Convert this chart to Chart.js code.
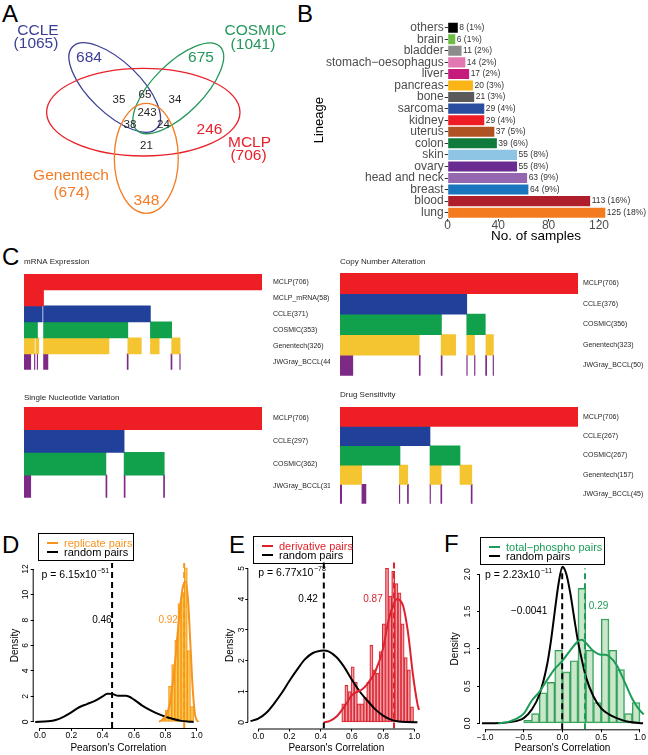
<!DOCTYPE html>
<html>
<head>
<meta charset="utf-8">
<script src="https://cdn.jsdelivr.net/npm/chart.js@4.4.0/dist/chart.umd.min.js"></script>
<style>
body { margin: 0; background: #fff; width: 648px; height: 755px; position: relative; overflow: hidden;
       font-family: 'Liberation Sans', Arial, sans-serif; }
canvas, .tag, .leg { position: absolute; }
.tag { font-size: 24px; line-height: 24px; color: #000; }
.leg { border: 1px solid #000; box-sizing: border-box; height: 28px; font-size: 11px; }
.leg i { position: absolute; left: 8px; width: 11px; height: 2px; }
.leg span { position: absolute; left: 25px; line-height: 10px; white-space: nowrap; }
</style>
</head>
<body>
<div class="tag" style="left:2px;top:2px">A</div>
<div class="tag" style="left:297px;top:2px">B</div>
<div class="tag" style="left:2px;top:245px">C</div>
<div class="tag" style="left:2px;top:533px">D</div>
<div class="tag" style="left:229px;top:533px">E</div>
<div class="tag" style="left:444px;top:532px">F</div>

<canvas id="venn" width="320" height="250" style="left:0;top:0"></canvas>
<canvas id="lineage" width="338" height="250" style="left:310px;top:0"></canvas>
<canvas id="mrna" width="330" height="130" style="left:0;top:255px"></canvas>
<canvas id="cna" width="332" height="130" style="left:316px;top:255px"></canvas>
<canvas id="snv" width="330" height="122" style="left:0;top:391px"></canvas>
<canvas id="drug" width="332" height="125" style="left:316px;top:388px"></canvas>
<canvas id="histD" width="215" height="200" style="left:0;top:555px"></canvas>
<canvas id="histE" width="215" height="200" style="left:215px;top:555px"></canvas>
<canvas id="histF" width="218" height="200" style="left:430px;top:555px"></canvas>

<div class="leg" style="left:38px;top:533px;width:96px">
  <i style="top:8px;background:#f7941d"></i><span style="top:4px;color:#f7941d">replicate pairs</span>
  <i style="top:17px;background:#000"></i><span style="top:13px">random pairs</span>
</div>
<div class="leg" style="left:253px;top:536px;width:100px">
  <i style="top:8px;background:#e41e26"></i><span style="top:4px;color:#e41e26">derivative pairs</span>
  <i style="top:17px;background:#000"></i><span style="top:13px">random pairs</span>
</div>
<div class="leg" style="left:480px;top:537px;width:125px">
  <i style="top:8px;background:#1c9c58"></i><span style="top:4px;color:#1c9c58">total−phospho pairs</span>
  <i style="top:17px;background:#000"></i><span style="top:13px">random pairs</span>
</div>

<script>
const FONT = "'Liberation Sans', Arial, sans-serif";
Chart.defaults.font.family = FONT;
Chart.defaults.color = '#000';
Chart.defaults.animation = false;
Chart.defaults.responsive = false;
Chart.defaults.plugins.legend.display = false;
Chart.defaults.plugins.tooltip.enabled = false;

// ---- A: overlap of the four sources
const vennSets = ['CCLE', 'COSMIC', 'MCLP', 'Genentech'];
const vennTotals = [1065, 1041, 706, 674];
const vennCounts = [684, 675, 246, 348, 35, 65, 34, 243, 38, 24, 21];

// ---- B: lineages
const lineages = ['others', 'brain', 'bladder', 'stomach−oesophagus', 'liver', 'pancreas', 'bone', 'sarcoma',
  'kidney', 'uterus', 'colon', 'skin', 'ovary', 'head and neck', 'breast', 'blood', 'lung'];
const lineageCounts = [8, 6, 11, 14, 17, 20, 21, 29, 29, 37, 39, 55, 55, 63, 64, 113, 125];
const lineagePct = ['1%', '1%', '2%', '2%', '2%', '3%', '3%', '4%', '4%', '5%', '6%', '8%', '8%', '9%', '9%', '16%', '18%'];

// ---- C: sample coverage per data type, segments in sample order (0..706)
const mrnaTracks = ['MCLP(706)', 'MCLP_mRNA(58)', 'CCLE(371)', 'COSMIC(353)', 'Genentech(326)', 'JWGray_BCCL(44)'];
const mrnaSegs = [
  [[0, 706]], [[0, 58]], [[0, 54], [58, 375]], [[0, 40], [58, 308], [375, 438]],
  [[0, 31], [35, 44], [58, 252], [308, 348], [375, 401], [438, 463]],
  [[0, 20], [31, 32.5], [39, 40.5], [58, 71], [306, 309], [436, 439], [462, 463.5]]];
const cnaTracks = ['MCLP(706)', 'CCLE(376)', 'COSMIC(356)', 'Genentech(323)', 'JWGray_BCCL(50)'];
const cnaSegs = [
  [[0, 706]], [[0, 376]], [[0, 301], [376, 431]], [[0, 235], [300, 343], [376, 399], [433, 455]],
  [[0, 38], [235, 238], [300, 303], [376, 377.5], [399, 400.5], [432, 435], [454, 455.5]]];
const snvTracks = ['MCLP(706)', 'CCLE(297)', 'COSMIC(362)', 'JWGray_BCCL(31)'];
const snvSegs = [
  [[0, 706]], [[0, 297]], [[0, 243], [297, 416]], [[0, 20], [243, 246], [297, 300], [414, 417]]];
const drugTracks = ['MCLP(706)', 'CCLE(267)', 'COSMIC(267)', 'Genentech(157)', 'JWGray_BCCL(45)'];
const drugSegs = [
  [[0, 706]], [[0, 267]], [[0, 178], [267, 356]], [[0, 64], [176, 201], [267, 300], [356, 391]],
  [[1, 5], [65, 77], [176, 177.5], [200, 203], [267, 268.5], [299, 302], [389, 392]]];

// ---- D/E/F: Pearson correlation distributions
const dBins = [0.79, 0.81, 0.83, 0.85, 0.87, 0.89, 0.91, 0.93, 0.95, 0.97];
const dHist = [0.3, 0.9, 2.8, 4.5, 6.4, 9.3, 10.0, 12.1, 5.6, 1.2];
const dRandX = [-0.03, 0.05, 0.1, 0.15, 0.2, 0.25, 0.3, 0.35, 0.4, 0.43, 0.46, 0.5, 0.55, 0.6, 0.65, 0.7, 0.75, 0.8, 0.85, 0.9, 0.95, 0.98];
const dRandY = [0, 0.05, 0.15, 0.4, 0.75, 1.15, 1.4, 1.65, 2.0, 2.22, 2.2, 2.05, 2.05, 1.75, 1.3, 0.95, 0.65, 0.4, 0.22, 0.08, 0.02, 0];
const dPairX = [0.76, 0.8, 0.83, 0.86, 0.89, 0.91, 0.93, 0.945, 0.96, 0.975, 0.99, 1.01];
const dPairY = [0, 0.4, 1.5, 4.5, 8.5, 10.5, 11.0, 9.5, 6.0, 2.5, 0.5, 0];
const dMeans = [0.46, 0.92];

const eBins = [0.545, 0.565, 0.585, 0.605, 0.625, 0.645, 0.665, 0.685, 0.705, 0.725, 0.745, 0.765,
  0.785, 0.805, 0.825, 0.845, 0.865, 0.885, 0.905, 0.925, 0.945, 0.965, 0.985];
const eHist = [0.6, 1.2, 1.0, 1.8, 1.3, 0.6, 0.6, 0.8, 1.3, 2.5, 1.7, 1.6, 2.3, 3.2, 5.0, 4.1, 4.9, 4.5, 4.2, 3.2, 2.1, 1.7, 0.5];
const eRandX = [-0.05, 0, 0.05, 0.1, 0.15, 0.2, 0.25, 0.3, 0.35, 0.4, 0.42, 0.45, 0.5, 0.55, 0.6, 0.65, 0.7, 0.75, 0.8, 0.85, 0.9, 0.95, 1.02];
const eRandY = [0.04, 0.12, 0.3, 0.6, 0.95, 1.35, 1.72, 2.05, 2.25, 2.32, 2.33, 2.3, 2.12, 1.8, 1.38, 1.0, 0.7, 0.42, 0.22, 0.09, 0.03, 0.01, 0];
const ePairX = [0.42, 0.46, 0.5, 0.55, 0.6, 0.63, 0.66, 0.7, 0.75, 0.8, 0.83, 0.86, 0.89, 0.91, 0.93, 0.96, 0.99, 1.02, 1.03];
const ePairY = [0, 0.05, 0.18, 0.5, 0.88, 0.98, 1.05, 1.25, 1.65, 2.4, 3.2, 3.75, 4.0, 3.95, 3.75, 2.9, 1.6, 0.6, 0.4];
const eMeans = [0.42, 0.87];

const fBins = [-0.45, -0.35, -0.25, -0.15, -0.05, 0.05, 0.15, 0.25, 0.35, 0.45, 0.55, 0.65, 0.75, 0.85, 0.95];
const fHist = [0.04, 0.13, 0.41, 0.55, 0.98, 0.69, 0.84, 1.81, 0.98, 0.28, 1.40, 0.98, 0.72, 0.13, 0.28];
const fRandX = [-1.04, -0.8, -0.6, -0.5, -0.4, -0.3, -0.2, -0.15, -0.1, -0.05, 0, 0.05, 0.1, 0.15, 0.2, 0.25, 0.3, 0.4, 0.5, 0.6, 0.7, 0.85, 1.04];
const fRandY = [0, 0.005, 0.03, 0.07, 0.18, 0.38, 0.78, 1.1, 1.5, 1.88, 2.1, 2.0, 1.75, 1.42, 1.1, 0.85, 0.63, 0.36, 0.2, 0.12, 0.07, 0.02, 0];
const fPairX = [-0.83, -0.7, -0.6, -0.5, -0.4, -0.3, -0.2, -0.1, 0, 0.1, 0.2, 0.25, 0.3, 0.4, 0.5, 0.55, 0.6, 0.7, 0.8, 0.9, 1.0, 1.05];
const fPairY = [0, 0.02, 0.06, 0.13, 0.3, 0.42, 0.58, 0.73, 0.84, 0.98, 1.1, 1.12, 1.08, 0.97, 0.92, 0.92, 0.9, 0.78, 0.56, 0.33, 0.17, 0.12];
const fMeans = [-0.0041, 0.29];

function xyzip(xs, ys) {
  return xs.map((x, i) => ({x: x, y: ys[i]}));
}

// ---------------- A: Venn (drawn in a 320x250 unit frame)
const vennColors = ['#3b3f95', '#23985a', '#e8222b', '#f47c24'];
const vennShapes = [[114.7, 87.5, 58.6, 25.5, 44], [178.3, 88.3, 59, 25, -45], [143.3, 112.2, 96.7, 43.8, 0], [146.3, 158.3, 32, 55, 0]];
const vennNameX = [38, 255.5, 249.5, 71], vennNameY = [31, 31, 142.5, 176];
const vennTotalX = [36, 253, 248.5, 71.5], vennTotalY = [44, 44.5, 156, 193];
const vennCountX = [89, 201, 209.5, 146.5, 119, 145, 175, 147, 130, 163.5, 146.5];
const vennCountY = [57.5, 57.5, 130, 201, 100, 95, 100, 112.5, 125, 125, 146];

const vennDraw = {
  id: 'vennDraw',
  beforeDatasetsDraw(chart) {
    const {ctx, scales: {x, y}} = chart;
    const k = x.getPixelForValue(1) - x.getPixelForValue(0);
    ctx.save();
    ctx.lineWidth = 1.3;
    vennShapes.forEach((e, i) => {
      ctx.strokeStyle = vennColors[i];
      ctx.beginPath();
      ctx.ellipse(x.getPixelForValue(e[0]), y.getPixelForValue(e[1]), e[2] * k, e[3] * k, e[4] * Math.PI / 180, 0, 2 * Math.PI);
      ctx.stroke();
    });
    ctx.restore();
  },
  afterDatasetsDraw(chart) {
    const {ctx, scales: {x, y}} = chart;
    ctx.save();
    ctx.textAlign = 'center';
    ctx.textBaseline = 'middle';
    ctx.font = '15.5px ' + FONT;
    vennSets.forEach((s, i) => {
      ctx.fillStyle = vennColors[i];
      ctx.fillText(s, x.getPixelForValue(vennNameX[i]), y.getPixelForValue(vennNameY[i]));
      ctx.fillText('(' + vennTotals[i] + ')', x.getPixelForValue(vennTotalX[i]), y.getPixelForValue(vennTotalY[i]));
    });
    chart.getDatasetMeta(0).data.forEach((pt, i) => {
      const own = i < 4;
      ctx.font = (own ? 15.5 : 11.5) + 'px ' + FONT;
      ctx.fillStyle = own ? vennColors[i] : '#231f20';
      ctx.fillText(String(vennCounts[i]), pt.x, pt.y);
    });
    ctx.restore();
  }
};

new Chart(document.getElementById('venn'), {
  type: 'scatter',
  data: {datasets: [{data: xyzip(vennCountX, vennCountY), pointRadius: 0}]},
  options: {
    layout: {padding: 0},
    scales: {
      x: {min: 0, max: 320, display: false},
      y: {min: 0, max: 250, reverse: true, display: false}
    }
  },
  plugins: [vennDraw]
});

// ---------------- B: lineage bars
const lineageColors = ['#000000', '#6cbd45', '#8c8c8c', '#e377b1', '#c51b7d', '#fbb416', '#5a5a5a', '#2a4d9f',
  '#ee1d25', '#b05324', '#107a3d', '#8ec5e5', '#6a2c91', '#9467b0', '#1a75bc', '#ae1f2b', '#f47a20'];

const barValueLabels = {
  id: 'barValueLabels',
  afterDatasetsDraw(chart) {
    const ctx = chart.ctx;
    ctx.save();
    ctx.font = '8.5px ' + FONT;
    ctx.fillStyle = '#333';
    ctx.textBaseline = 'middle';
    chart.getDatasetMeta(0).data.forEach((bar, i) => {
      ctx.fillText(lineageCounts[i] + ' (' + lineagePct[i] + ')', bar.x + 1.5, bar.y);
    });
    ctx.restore();
  }
};

new Chart(document.getElementById('lineage'), {
  type: 'bar',
  data: {labels: lineages, datasets: [{data: lineageCounts, backgroundColor: lineageColors, barPercentage: 0.87, categoryPercentage: 1}]},
  options: {
    indexAxis: 'y',
    layout: {padding: {top: 21.9, right: 23.8, left: 0, bottom: 0}},
    scales: {
      x: {
        min: 0, max: 140,
        ticks: {stepSize: 40, includeBounds: false, color: '#4d4d4d', font: {size: 12, lineHeight: 1}, padding: -2, maxRotation: 0},
        grid: {drawOnChartArea: false, tickLength: 3, color: '#333'},
        border: {display: false},
        title: {display: true, text: 'No. of samples', font: {size: 13.5}, padding: {top: 0, bottom: 6}},
        afterFit: s => { s.height = 31.5; }
      },
      y: {
        ticks: {autoSkip: false, color: '#4d4d4d', font: {size: 12}, padding: 1},
        grid: {drawOnChartArea: false, tickLength: 3, color: '#333', offset: false},
        border: {display: false},
        title: {display: true, text: 'Lineage', font: {size: 13}, padding: {top: 1.2, bottom: 0}},
        afterFit: s => { s.width = 137.7; }
      }
    }
  },
  plugins: [barValueLabels]
});

// ---------------- C: coverage tracks
const sourceColor = {MCLP: '#ed1f24', CCLE: '#21409a', COSMIC: '#11a04b', Genentech: '#f5c431', JWGray: '#7d2a86'};

function trackPanel(id, title, names, segs, titleBottom, axisW, labelPad) {
  new Chart(document.getElementById(id), {
    type: 'bar',
    data: {
      labels: names,
      datasets: names.map((n, i) => ({
        data: segs[i].map(s => ({x: s, y: n})),
        backgroundColor: sourceColor[n.split(/[_(]/)[0]],
        grouped: false, barPercentage: 1, categoryPercentage: 1
      }))
    },
    options: {
      indexAxis: 'y',
      layout: {padding: {left: 24, top: 0, right: 0, bottom: 4}},
      plugins: {
        title: {display: true, text: title, align: 'start', color: '#231f20',
                font: {size: 8, weight: 'normal'}, padding: {top: 2.2, bottom: titleBottom}}
      },
      scales: {
        x: {type: 'linear', min: 0, max: 706, display: false},
        y: {
          position: 'right',
          grid: {display: false, drawTicks: false},
          border: {display: false},
          ticks: {autoSkip: false, padding: labelPad, color: '#231f20', font: {size: 7}},
          afterFit: s => { s.width = axisW; }
        }
      }
    }
  });
}

trackPanel('mrna', 'mRNA Expression', mrnaTracks, mrnaSegs, 7.2, 68, 11);
trackPanel('cna', 'Copy Number Alteration', cnaTracks, cnaSegs, 6.2, 70, 5);
trackPanel('snv', 'Single Nucleotide Variation', snvTracks, snvSegs, 4.2, 68, 11);
trackPanel('drug', 'Drug Sensitivity', drugTracks, drugSegs, 7.2, 70, 5);

// ---------------- D/E/F: histograms with density curves
const rAxes = {
  id: 'rAxes',
  afterDraw(chart) {
    const {ctx, chartArea: a, scales: {x, y}} = chart;
    ctx.save();
    ctx.strokeStyle = '#000';
    ctx.lineWidth = 1;
    ctx.beginPath();
    ctx.moveTo(x.getPixelForValue(x.ticks[0].value), a.bottom + 0.5);
    ctx.lineTo(x.getPixelForValue(x.ticks[x.ticks.length - 1].value), a.bottom + 0.5);
    ctx.moveTo(a.left - 0.5, y.getPixelForValue(y.ticks[0].value));
    ctx.lineTo(a.left - 0.5, y.getPixelForValue(y.ticks[y.ticks.length - 1].value));
    ctx.stroke();
    ctx.restore();
  }
};

function fmtNum(v, digits) {
  return v.toFixed(digits).replace('-', '−');
}

function densityPanel(id, p) {
  const notes = {
    id: 'notes',
    afterDatasetsDraw(chart) {
      const {ctx, scales: {x, y}} = chart;
      ctx.save();
      ctx.textBaseline = 'middle';
      ctx.textAlign = 'center';
      ctx.font = '10px ' + FONT;
      p.means.forEach((m, i) => {
        ctx.fillStyle = p.colors[i];
        ctx.fillText(p.meanText[i], x.getPixelForValue(p.meanLabelX[i]), y.getPixelForValue(p.meanLabelY[i]));
      });
      ctx.textAlign = 'left';
      ctx.fillStyle = '#000';
      ctx.font = '10.5px ' + FONT;
      const px = x.getPixelForValue(p.pAt[0]), py = y.getPixelForValue(p.pAt[1]);
      const base = 'p = ' + p.pMant + 'x10';
      ctx.fillText(base, px, py);
      const w = ctx.measureText(base).width;
      ctx.font = '7px ' + FONT;
      ctx.fillText(p.pExp, px + w + 0.5, py - 4);
      ctx.restore();
    }
  };
  const datasets = [];
  p.means.forEach((m, i) => datasets.push({
    type: 'line', data: [{x: m, y: p.yMin}, {x: m, y: p.yMax}],
    borderColor: p.colors[i], borderWidth: 2, borderDash: [6, 4], pointRadius: 0
  }));
  datasets.push({type: 'line', data: xyzip(p.pairX, p.pairY), borderColor: p.colors[1], borderWidth: 2,
    pointRadius: 0, cubicInterpolationMode: 'monotone', clip: false});
  datasets.push({type: 'line', data: xyzip(p.randX, p.randY), borderColor: '#000', borderWidth: 2,
    pointRadius: 0, cubicInterpolationMode: 'monotone', clip: false});
  datasets.push({type: 'bar', data: xyzip(p.bins, p.hist), backgroundColor: p.fill, borderColor: p.edge,
    borderWidth: 1, borderSkipped: false, barPercentage: 1, categoryPercentage: 1});

  new Chart(document.getElementById(id), {
    type: 'bar',
    data: {datasets: datasets},
    options: {
      layout: {padding: {top: p.top, right: p.right, left: 0, bottom: 0}},
      scales: {
        x: {
          type: 'linear', min: p.xMin, max: p.xMax, offset: false,
          ticks: {stepSize: p.xStep, includeBounds: false, autoSkip: false, maxRotation: 0, padding: 0,
                  font: {size: 8.5}, callback: v => fmtNum(v, 1)},
          grid: {drawOnChartArea: false, tickLength: 3, color: '#000', offset: false},
          border: {display: false},
          title: {display: true, text: "Pearson's Correlation", font: {size: 10}, padding: {top: 0, bottom: 1}},
          afterFit: s => { s.height = p.xAxisH; }
        },
        y: {
          min: p.yMin, max: p.yMax,
          ticks: {stepSize: p.yStep, includeBounds: false, minRotation: 90, maxRotation: 90, crossAlign: 'center',
                  padding: p.yPad, font: {size: 8.5}, callback: v => fmtNum(v, p.yDigits)},
          grid: {drawOnChartArea: false, tickLength: 3, color: '#000'},
          border: {display: false},
          title: {display: true, text: 'Density', font: {size: 10}, padding: {top: p.yTitlePad, bottom: 0}},
          afterFit: s => { s.width = p.yAxisW; }
        }
      }
    },
    plugins: [rAxes, notes]
  });
}

densityPanel('histD', {
  bins: dBins, hist: dHist, randX: dRandX, randY: dRandY, pairX: dPairX, pairY: dPairY, means: dMeans,
  meanText: ['0.46', '0.92'], meanLabelX: [0.395, 0.818], meanLabelY: [8, 8],
  pMant: '6.15', pExp: '−51', pAt: [0.01, 11.5],
  colors: ['#000', '#f7941d'], fill: 'rgba(250,205,70,0.75)', edge: '#f7941d',
  xMin: -0.04, xMax: 1.04, xStep: 0.2, yMin: -0.48, yMax: 12.48, yStep: 2, yDigits: 0,
  top: 8, right: 12, xAxisH: 27, yAxisW: 33.7, yPad: 0, yTitlePad: 9
});

densityPanel('histE', {
  bins: eBins, hist: eHist, randX: eRandX, randY: eRandY, pairX: ePairX, pairY: ePairY, means: eMeans,
  meanText: ['0.42', '0.87'], meanLabelX: [0.319, 0.735], meanLabelY: [4.0, 4.0],
  pMant: '6.77', pExp: '−78', pAt: [0.0, 4.85],
  colors: ['#000', '#dc2430'], fill: 'rgba(242,175,182,0.6)', edge: '#dc2430',
  xMin: -0.064, xMax: 1.064, xStep: 0.2, yMin: -0.2, yMax: 5.2, yStep: 1, yDigits: 0,
  top: 7.1, right: 5.7, xAxisH: 26.5, yAxisW: 33.3, yPad: 1.2, yTitlePad: 9
});

densityPanel('histF', {
  bins: fBins, hist: fHist, randX: fRandX, randY: fRandY, pairX: fPairX, pairY: fPairY, means: fMeans,
  meanText: ['−0.0041', '0.29'], meanLabelX: [-0.43, 0.465], meanLabelY: [1.5, 1.57],
  pMant: '2.23', pExp: '−11', pAt: [-1.0, 1.99],
  colors: ['#000', '#1c9c58'], fill: 'rgba(160,212,160,0.55)', edge: '#2fa05a',
  xMin: -1.065, xMax: 1.065, xStep: 0.5, yMin: -0.08, yMax: 2.08, yStep: 0.5, yDigits: 1,
  top: 13.3, right: 3, xAxisH: 25.7, yAxisW: 50, yPad: 3.1, yTitlePad: 19
});
</script>
</body>
</html>
